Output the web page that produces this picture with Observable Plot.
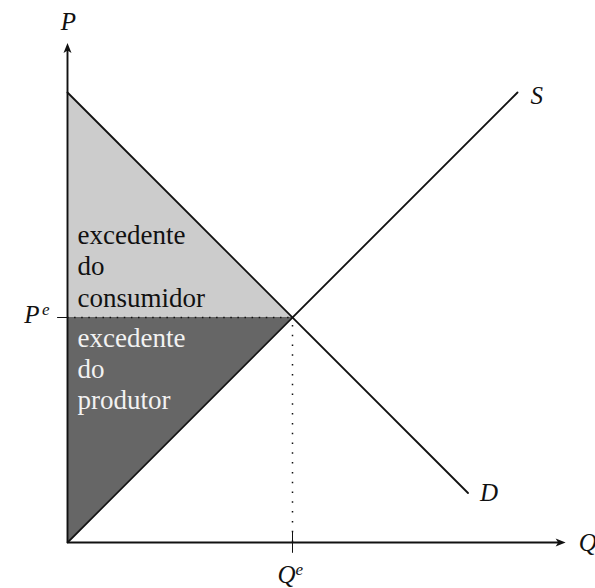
<!DOCTYPE html>
<html>
<head>
<meta charset="utf-8">
<script src="https://cdn.jsdelivr.net/npm/d3@7"></script>
<script src="https://cdn.jsdelivr.net/npm/@observablehq/plot@0.6"></script>
<style>
  html, body { margin: 0; padding: 0; background: #fff; }
  #chart svg { display: block; }
  #chart svg text, #chart svg tspan { font-family: "Liberation Serif", "Times New Roman", Tinos, "DejaVu Serif", serif; }
</style>
</head>
<body>
<div id="chart"></div>
<script>
// ---- data ----
const demand = [[0, 10], [8.9, 1.1]];        // D: P = 10 - Q
const supply = [[0, 0], [10, 10]];           // S: P = Q
const equilibrium = [5, 5];                  // [Qe, Pe]
const axisEnds = [11.07, 11.1];              // arrow tips [Q, P]
const surplusLabels = ["excedente\ndo\nconsumidor", "excedente\ndo\nprodutor"];
const curveLabels = ["S", "D"];
const axisLabels = ["Q", "P"];

const [Qe, Pe] = equilibrium;
const dAt = q => demand[0][1] + (demand[1][1] - demand[0][1]) / (demand[1][0] - demand[0][0]) * (q - demand[0][0]);
const sAt = q => supply[0][1] + (supply[1][1] - supply[0][1]) / (supply[1][0] - supply[0][0]) * (q - supply[0][0]);

const consumer = [{q: 0, lo: Pe, hi: dAt(0)}, {q: Qe, lo: Pe, hi: dAt(Qe)}];
const producer = [{q: 0, lo: sAt(0), hi: Pe}, {q: Qe, lo: sAt(Qe), hi: Pe}];

const stealth = {
  draw(ctx) {
    ctx.moveTo(0, 0);
    ctx.lineTo(-4, 10);
    ctx.lineTo(0, 7.5);
    ctx.lineTo(4, 10);
    ctx.closePath();
  }
};

const serif = "Liberation Serif, Times New Roman, DejaVu Serif, serif";
const ink = "#111";

const chart = Plot.plot({
  width: 595,
  height: 588,
  marginLeft: 67,
  marginRight: 33,
  marginTop: 47,
  marginBottom: 46,
  x: {domain: [0, 11], axis: null},
  y: {domain: [0, 11], axis: null},
  style: {fontFamily: serif, background: "#fff", overflow: "visible"},
  marks: [
    // ticks at Pe and Qe
    Plot.ruleY([Pe], {x1: -0.22, x2: 0.22, stroke: ink, strokeWidth: 1}),
    Plot.ruleX([Qe], {y1: -0.24, y2: 0.24, stroke: ink, strokeWidth: 1}),
    // surplus areas
    Plot.areaY(consumer, {x: "q", y1: "lo", y2: "hi", fill: "#cccccc"}),
    Plot.areaY(producer, {x: "q", y1: "lo", y2: "hi", fill: "#666666"}),
    // dotted guides
    Plot.ruleY([Pe], {x1: 0, x2: Qe, stroke: ink, strokeWidth: 1.5, strokeDasharray: "1.5,5.6"}),
    Plot.ruleX([Qe], {y1: 0, y2: Pe, stroke: ink, strokeWidth: 1.5, strokeDasharray: "1.5,8.3"}),
    // supply & demand
    Plot.line(demand, {x: d => d[0], y: d => d[1], stroke: ink, strokeWidth: 1.8}),
    Plot.line(supply, {x: d => d[0], y: d => d[1], stroke: ink, strokeWidth: 1.8}),
    // axes
    Plot.link([0], {x1: 0, y1: 0, x2: axisEnds[0] - 0.12, y2: 0, stroke: ink, strokeWidth: 1.9}),
    Plot.link([0], {x1: 0, y1: 0, x2: 0, y2: axisEnds[1] - 0.12, stroke: ink, strokeWidth: 1.9}),
    Plot.dot([[axisEnds[0], 0, 90], [0, axisEnds[1], 0]], {
      x: d => d[0], y: d => d[1], rotate: d => d[2], symbol: stealth, fill: ink, stroke: "none", r: 5
    }),
    // surplus labels
    Plot.text([surplusLabels[0]], {
      x: 0, y: Pe, text: d => d, textAnchor: "start", lineAnchor: "bottom",
      dx: 10, dy: -11, fontSize: 27, lineHeight: 1.15, fill: "#111",
      fontFamily: serif, letterSpacing: "0.6px"
    }),
    Plot.text([surplusLabels[1]], {
      x: 0, y: Pe, text: d => d, textAnchor: "start", lineAnchor: "top",
      dx: 10, dy: 7, fontSize: 27, lineHeight: 1.15, fill: "#f2f2f2",
      fontFamily: serif, letterSpacing: "0.6px"
    }),
    // curve labels
    Plot.text([supply[1]], {x: d => d[0], y: d => d[1], text: () => curveLabels[0],
      textAnchor: "start", lineAnchor: "bottom", dx: 13, dy: 11, fontSize: 25, fontStyle: "italic", fill: ink}),
    Plot.text([demand[1]], {x: d => d[0], y: d => d[1], text: () => curveLabels[1],
      textAnchor: "start", lineAnchor: "bottom", dx: 12, dy: 8, fontSize: 25, fontStyle: "italic", fill: ink}),
    // axis labels
    Plot.text([0], {x: axisEnds[0], y: 0, text: () => axisLabels[0],
      textAnchor: "start", lineAnchor: "bottom", dx: 13, dy: 8, fontSize: 25, fontStyle: "italic", fill: ink}),
    Plot.text([0], {x: 0, y: axisEnds[1], text: () => axisLabels[1],
      textAnchor: "middle", lineAnchor: "bottom", dx: 1, dy: -13, fontSize: 25, fontStyle: "italic", fill: ink}),
    // equilibrium labels P^e and Q^e
    Plot.text([Pe], {x: 0, y: d => d, text: () => axisLabels[1],
      textAnchor: "end", lineAnchor: "bottom", dx: -28, dy: 5, fontSize: 25, fontStyle: "italic", fill: ink}),
    Plot.text([Pe], {x: 0, y: d => d, text: () => "e",
      textAnchor: "end", lineAnchor: "bottom", dx: -18, dy: -3, fontSize: 17, fontStyle: "italic", fill: ink}),
    Plot.text([Qe], {x: d => d, y: 0, text: () => axisLabels[0],
      textAnchor: "end", lineAnchor: "bottom", dx: 3, dy: 40, fontSize: 25, fontStyle: "italic", fill: ink}),
    Plot.text([Qe], {x: d => d, y: 0, text: () => "e",
      textAnchor: "start", lineAnchor: "bottom", dx: 3, dy: 32, fontSize: 17, fontStyle: "italic", fill: ink})
  ]
});

document.getElementById("chart").appendChild(chart);
</script>
</body>
</html>
